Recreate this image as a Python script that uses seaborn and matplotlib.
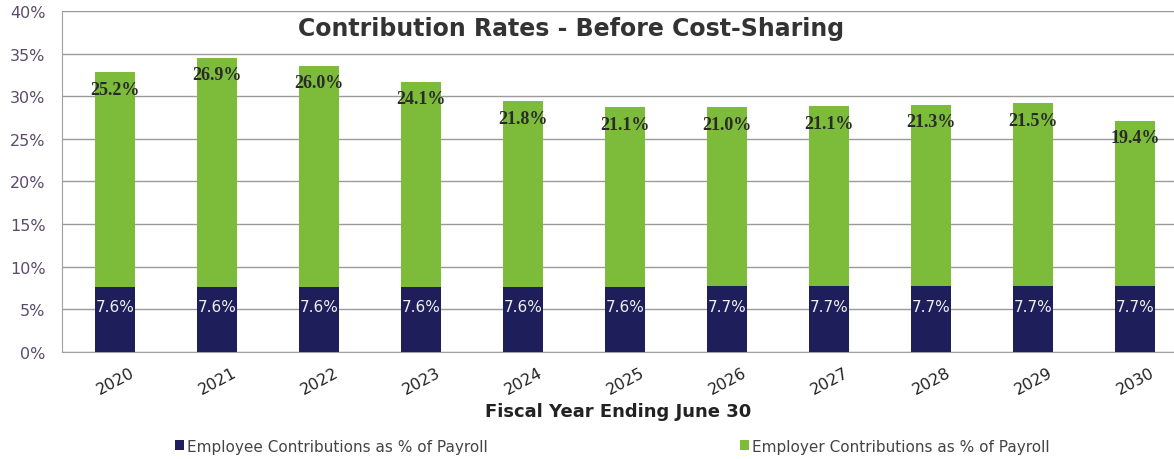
import matplotlib
matplotlib.use("Agg")
import matplotlib.pyplot as plt
from matplotlib.patches import Patch
from matplotlib.ticker import FuncFormatter, MultipleLocator
import pandas as pd
import seaborn as sns

years = ["2020", "2021", "2022", "2023", "2024", "2025", "2026", "2027", "2028", "2029", "2030"]
employee = [7.6, 7.6, 7.6, 7.6, 7.6, 7.6, 7.7, 7.7, 7.7, 7.7, 7.7]
employer = [25.2, 26.9, 26.0, 24.1, 21.8, 21.1, 21.0, 21.1, 21.3, 21.5, 19.4]

GREEN = "#7cbc3a"
NAVY = "#1e1e5a"
TICK_COLOR = "#5b4c6b"

df = pd.DataFrame({"year": years, "employee": employee, "employer": employer})
df["total"] = df["employee"] + df["employer"]

sns.set_style("white")
plt.rcParams["font.family"] = ["DejaVu Sans"]

fig = plt.figure(figsize=(11.74, 4.6), dpi=100)
ax = fig.add_axes([0.053, 0.2326, 0.947, 0.7414])

# stacked bars: full height in green, employee share drawn over it in navy
sns.barplot(data=df, x="year", y="total", color=GREEN, width=0.39,
            saturation=1, ax=ax, zorder=3, edgecolor="none", linewidth=0)
sns.barplot(data=df, x="year", y="employee", color=NAVY, width=0.39,
            saturation=1, ax=ax, zorder=4, edgecolor="none", linewidth=0)

for i, (e, r, t) in enumerate(zip(df["employee"], df["employer"], df["total"])):
    ax.text(i, t - 2.0, f"{r:.1f}%", ha="center", va="center",
            fontsize=13, family="Liberation Serif", fontweight="bold",
            color="#2a2a2a", zorder=5)
    ax.text(i, e * 0.7, f"{e:.1f}%", ha="center", va="center",
            fontsize=11, color="#eeeeee", zorder=5)

ax.set_ylim(0, 40)
ax.set_xlim(-0.52, 10.38)
ax.yaxis.set_major_locator(MultipleLocator(5))
ax.yaxis.set_major_formatter(FuncFormatter(lambda v, _: f"{v:.0f}%"))
ax.grid(axis="y", color="#9a9a9a", linewidth=1.0, zorder=0)
ax.grid(axis="x", visible=False)

for side in ["top", "right"]:
    ax.spines[side].set_visible(False)
ax.spines["left"].set_color("#a0a0a0")
ax.spines["bottom"].set_color("#a0a0a0")

ax.tick_params(axis="y", labelsize=11.5, labelcolor=TICK_COLOR, length=0, pad=12)
ax.tick_params(axis="x", labelsize=11.5, labelcolor="#222222", length=0, pad=9)
for lbl in ax.get_xticklabels():
    lbl.set_rotation(28)
ax.set_ylabel("")
ax.set_xlabel("Fiscal Year Ending June 30", fontsize=13, fontweight="bold",
              color="#222222", labelpad=4)

fig.text(0.486, 0.938, "Contribution Rates - Before Cost-Sharing",
         ha="center", va="center", fontsize=17, fontweight="bold",
         color="#333333")

handles = [Patch(facecolor=NAVY, edgecolor="none"),
           Patch(facecolor=GREEN, edgecolor="none")]
fig.legend(handles, ["Employee Contributions as % of Payroll",
                     "Employer Contributions as % of Payroll"],
           loc="center left", bbox_to_anchor=(0.137, 0.028), ncol=2,
           frameon=False, fontsize=11, handlelength=0.6, handleheight=0.6,
           handletextpad=0.2, columnspacing=16.5, labelcolor="#444444")

fig.savefig("out.png", dpi=100, facecolor="white")
